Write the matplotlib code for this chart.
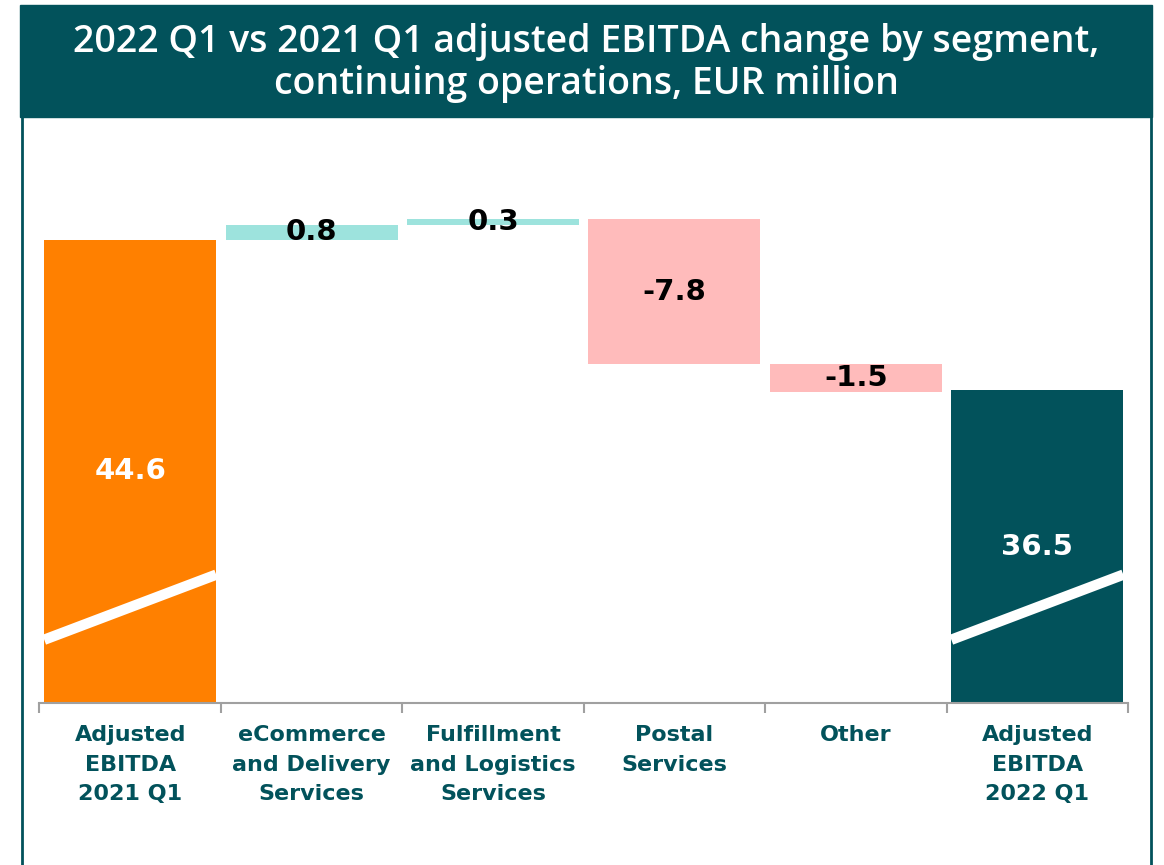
import numpy as np
import matplotlib.pyplot as plt
from matplotlib.patches import Rectangle
from matplotlib.lines import Line2D

# data
categories = ["Adjusted\nEBITDA\n2021 Q1", "eCommerce\nand Delivery\nServices",
              "Fulfillment\nand Logistics\nServices", "Postal\nServices", "Other",
              "Adjusted\nEBITDA\n2022 Q1"]
start_value = 44.6
changes = [0.8, 0.3, -7.8, -1.5]
end_value = 36.5

dark = "#02525B"
orange = "#FF8000"
up_col = "#9DE3DD"
down_col = "#FFBBBB"

W, H = 1164, 865
fig = plt.figure(figsize=(W / 100, H / 100), dpi=100)

# title box and frame
fig.patches.append(Rectangle((20 / W, 1 - 117 / H), 1132 / W, 112 / H,
                             transform=fig.transFigure, color=dark, zorder=0))
for xp in (21.5, 1151):
    fig.lines.append(Line2D([xp / W, xp / W], [0, 1 - 117 / H], transform=fig.transFigure,
                            color=dark, lw=2))
fig.text(586 / W, 1 - 63 / H, "2022 Q1 vs 2021 Q1 adjusted EBITDA change by segment,\ncontinuing operations, EUR million",
         ha="center", va="center", color="white", fontsize=27, linespacing=1.15,
         family="Open Sans", fontweight="semibold")

ax = fig.add_axes([39.5 / W, 1 - 703 / H, (1128 - 39.5) / W, (703 - 130) / H])
ybot, ytop = 19.7, 50.5
ax.set_ylim(ybot, ytop)
ax.set_xlim(-0.5, 5.5)

bw = 0.948
x = np.arange(len(categories))

# start / end bars (broken axis, drawn from the axis floor)
ax.bar(x[0], start_value - ybot, bottom=ybot, width=bw, color=orange)
ax.bar(x[-1], end_value - ybot, bottom=ybot, width=bw, color=dark)

running = start_value
for i, d in enumerate(changes, start=1):
    ax.bar(x[i], d, bottom=running, width=bw, color=up_col if d > 0 else down_col)
    ax.text(x[i], running + d / 2, f"{d:.1f}", ha="center", va="center",
            fontsize=21, fontweight="bold", color="black")
    running += d

for xi, v in ((x[0], start_value), (x[-1], end_value)):
    ax.text(xi, (v + ybot) / 2, f"{v:.1f}", ha="center", va="center",
            fontsize=21, fontweight="bold", color="white")
    # white break stripe
    ax.plot([xi - bw / 2, xi + bw / 2], [23.1, 26.6], color="white", lw=7.5,
            solid_capstyle="butt")

for s in ("top", "right", "left"):
    ax.spines[s].set_visible(False)
ax.spines["bottom"].set_color("#A0A0A0")
ax.spines["bottom"].set_linewidth(1.5)
ax.set_yticks([])
ax.set_xticks(x)
ax.set_xticklabels(categories, fontsize=16, fontweight="bold", color=dark, linespacing=1.6)
ax.tick_params(axis="x", which="major", length=0, pad=16)
ax.set_xticks(np.arange(-0.5, 6, 1), minor=True)
ax.tick_params(axis="x", which="minor", length=7, width=1.5, color="#A0A0A0")

fig.savefig("out.png", dpi=100)
